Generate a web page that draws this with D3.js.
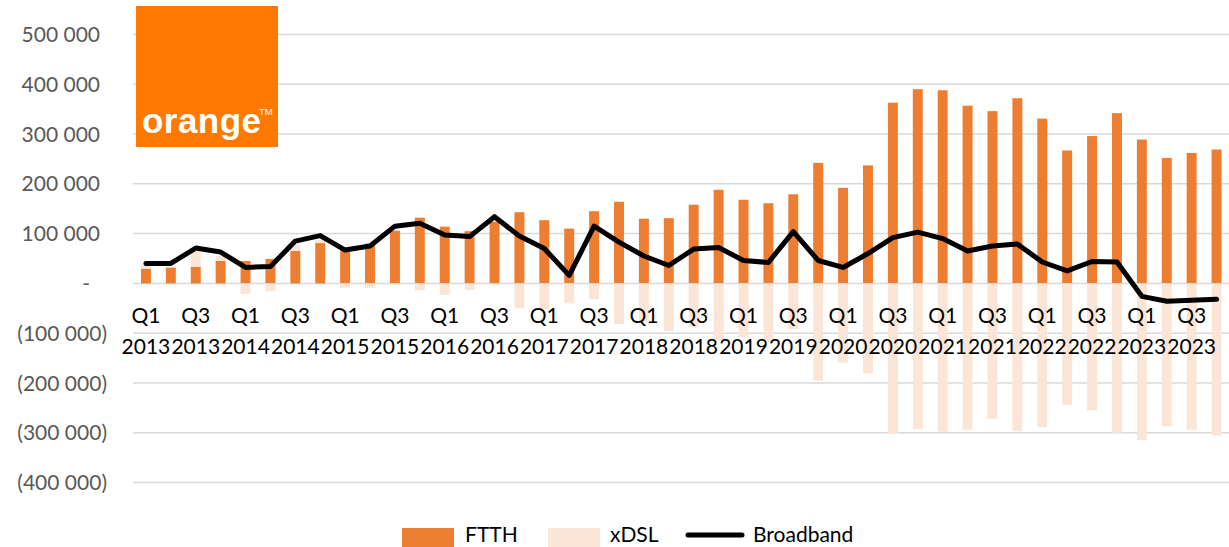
<!DOCTYPE html>
<html>
<head>
<meta charset="utf-8">
<script src="https://cdn.jsdelivr.net/npm/d3@7"></script>
<style>
  html, body { margin: 0; padding: 0; background: #fff; }
  svg { display: block; }
</style>
</head>
<body>
<svg id="chart" width="1229" height="547"></svg>
<script>
// ---------- data ----------
const quarters = [
  "Q1 2013","Q2 2013","Q3 2013","Q4 2013",
  "Q1 2014","Q2 2014","Q3 2014","Q4 2014",
  "Q1 2015","Q2 2015","Q3 2015","Q4 2015",
  "Q1 2016","Q2 2016","Q3 2016","Q4 2016",
  "Q1 2017","Q2 2017","Q3 2017","Q4 2017",
  "Q1 2018","Q2 2018","Q3 2018","Q4 2018",
  "Q1 2019","Q2 2019","Q3 2019","Q4 2019",
  "Q1 2020","Q2 2020","Q3 2020","Q4 2020",
  "Q1 2021","Q2 2021","Q3 2021","Q4 2021",
  "Q1 2022","Q2 2022","Q3 2022","Q4 2022",
  "Q1 2023","Q2 2023","Q3 2023","Q4 2023"
];
const ftth = [
  29000, 32000, 33000, 45000,
  45000, 49000, 65000, 81000,
  72000, 80000, 106000, 132000,
  114000, 105000, 124000, 143000,
  127000, 110000, 145000, 164000,
  130000, 131000, 158000, 188000,
  168000, 161000, 179000, 242000,
  192000, 237000, 363000, 390000,
  388000, 357000, 346000, 372000,
  331000, 267000, 296000, 342000,
  289000, 252000, 262000, 269000
];
const xdsl = [
  7000, 2000, 33000, 10000,
  -21000, -16000, 13000, 7000,
  -9000, -9000, -2000, -14000,
  -23000, -13000, -2000, -50000,
  -52000, -40000, -32000, -82000,
  -78000, -96000, -88000, -115000,
  -108000, -118000, -92000, -195000,
  -159000, -181000, -302000, -293000,
  -298000, -294000, -272000, -297000,
  -289000, -244000, -255000, -300000,
  -315000, -287000, -294000, -306000
];
const broadband = [
  40000, 40000, 71000, 63000,
  32000, 34000, 85000, 96000,
  67000, 75000, 115000, 121000,
  97000, 94000, 134000, 95000,
  70000, 16000, 115000, 83000,
  55000, 36000, 69000, 72000,
  46000, 42000, 104000, 46000,
  32000, 60000, 92000, 103000,
  90000, 65000, 75000, 79000,
  43000, 25000, 44000, 43000,
  -26000, -36000, -34000, -32000
];
const yTicks = [500000, 400000, 300000, 200000, 100000, 0, -100000, -200000, -300000, -400000];
const seriesNames = ["FTTH", "xDSL", "Broadband"];

// ---------- layout ----------
const svg = d3.select("#chart");
const colors = { FTTH: "#ED7D31", xDSL: "#FBE5D6", Broadband: "#000000" };
const font = "Lato, 'Open Sans', sans-serif";

const x = d3.scaleBand().domain(quarters).range([133.5, 1229]).paddingInner(0.6).paddingOuter(0.3);
const y = d3.scaleLinear().domain([-400000, 500000]).range([482.5, 34.5]);

// gridlines
svg.append("g").selectAll("line").data(yTicks).join("line")
  .attr("x1", 133).attr("x2", 1229)
  .attr("y1", d => y(d)).attr("y2", d => y(d))
  .attr("stroke", "#d9d9d9").attr("stroke-width", 1.5);

// y axis labels
function fmt(v) {
  if (v === 0) return "-";
  const s = d3.format(",")(Math.abs(v)).replace(/,/g, " ");
  return v < 0 ? "(" + s + ")" : s;
}
svg.append("g").selectAll("text").data(yTicks).join("text")
  .attr("x", d => d < 0 ? 107 : (d === 0 ? 90 : 100))
  .attr("y", d => y(d))
  .attr("dy", "0.36em")
  .attr("text-anchor", "end")
  .attr("font-family", font).attr("font-size", 21)
  .attr("fill", "#595959")
  .text(fmt);

// stacked bars
const table = quarters.map((q, i) => ({ q, FTTH: ftth[i], xDSL: xdsl[i] }));
const stacked = d3.stack().keys(["FTTH", "xDSL"]).offset(d3.stackOffsetDiverging)(table);
const bw = x.bandwidth();
svg.append("g").selectAll("g").data(stacked).join("g")
  .attr("fill", s => colors[s.key])
  .selectAll("rect").data(s => s).join("rect")
  .attr("x", d => x(d.data.q))
  .attr("width", bw)
  .attr("y", d => y(Math.max(d[0], d[1])))
  .attr("height", d => Math.abs(y(d[0]) - y(d[1])));

// category labels (every other quarter)
const lab = svg.append("g").attr("font-family", font).attr("font-size", 21).attr("fill", "#000");
quarters.forEach((q, i) => {
  if (i % 2 !== 0) return;
  const [qq, yr] = q.split(" ");
  const cx = x(q) + bw / 2;
  lab.append("text").attr("x", cx).attr("y", 323).attr("text-anchor", "middle").text(qq);
  lab.append("text").attr("x", cx).attr("y", 354).attr("text-anchor", "middle").text(yr);
});

// broadband line
const line = d3.line()
  .x((d, i) => x(quarters[i]) + bw / 2)
  .y(d => y(d));
svg.append("path").datum(broadband)
  .attr("d", line)
  .attr("fill", "none")
  .attr("stroke", colors.Broadband)
  .attr("stroke-width", 5)
  .attr("stroke-linejoin", "round")
  .attr("stroke-linecap", "round");

// orange logo
const logo = svg.append("g");
logo.append("rect").attr("x", 136).attr("y", 6).attr("width", 142).attr("height", 141).attr("fill", "#FF7900");
logo.append("text").attr("x", 142).attr("y", 133)
  .attr("font-family", "'Liberation Sans', Arial, sans-serif").attr("font-weight", "bold")
  .attr("font-size", 35).attr("fill", "#fff").attr("textLength", 119).text("orange");
logo.append("text").attr("x", 259).attr("y", 115)
  .attr("font-family", "'Liberation Sans', Arial, sans-serif")
  .attr("font-size", 9.5).attr("fill", "#fff").text("TM");

// legend
const leg = svg.append("g").attr("font-family", font).attr("font-size", 21).attr("fill", "#000");
const legItems = [
  { name: seriesNames[0], sx: 402, tx: 465 },
  { name: seriesNames[1], sx: 548, tx: 610 },
  { name: seriesNames[2], sx: 688, tx: 753 }
];
legItems.forEach(it => {
  if (it.name === "Broadband") {
    leg.append("line").attr("x1", it.sx).attr("x2", it.sx + 54).attr("y1", 535).attr("y2", 535)
      .attr("stroke", "#000").attr("stroke-width", 5).attr("stroke-linecap", "round");
  } else {
    leg.append("rect").attr("x", it.sx).attr("y", 528).attr("width", 52).attr("height", 20)
      .attr("fill", colors[it.name]);
  }
  leg.append("text").attr("x", it.tx).attr("y", 541.5).text(it.name);
});
</script>
</body>
</html>
